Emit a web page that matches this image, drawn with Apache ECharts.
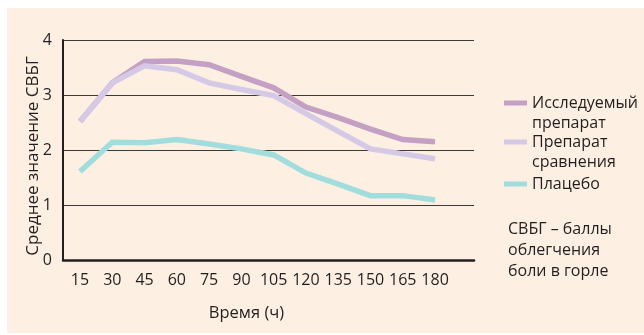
<!DOCTYPE html>
<html><head><meta charset="utf-8">
<script src="https://cdn.jsdelivr.net/npm/echarts@6/dist/echarts.min.js"></script>
<style>html,body{margin:0;padding:0;background:#fff}#c{width:644px;height:335px}</style>
</head><body><div id="c"></div>
<script>
const times = [15, 30, 45, 60, 75, 90, 105, 120, 135, 150, 165, 180];
const seriesNames = ['Исследуемый\nпрепарат', 'Препарат\nсравнения', 'Плацебо'];
const studyDrug = [2.52, 3.22, 3.61, 3.62, 3.55, 3.34, 3.13, 2.78, 2.59, 2.38, 2.19, 2.15];
const comparator = [2.52, 3.22, 3.53, 3.46, 3.22, 3.10, 2.99, 2.66, 2.34, 2.02, 1.93, 1.84];
const placebo = [1.61, 2.14, 2.13, 2.19, 2.11, 2.02, 1.91, 1.58, 1.38, 1.17, 1.17, 1.09];
const yTicks = [0, 1, 2, 3, 4];
const yName = 'Среднее значение СВБГ';
const xName = 'Время (ч)';
const note = 'СВБГ – баллы\nоблегчения\nболи в горле';

const colors = ['#c3a0c4', '#d5c9e6', '#a2dddd'];
const FONT = 'Open Sans';
const TXT = '#231f20';
const allSeries = [studyDrug, comparator, placebo];

const chart = echarts.init(document.getElementById('c'), null, {renderer: 'canvas'});
const legendTops = [73, 112, 174];
const option = {
  animation: false,
  textStyle: {fontFamily: FONT},
  graphic: [
    {type: 'rect', z: -10, left: 7, top: 8, shape: {width: 637, height: 325}, style: {fill: '#fdf0e3'}, silent: true},
    {type: 'text', left: 508, top: 219, style: {text: note, font: '16px "Open Sans"', fill: TXT, lineHeight: 21}}
  ],
  grid: {left: 63, right: 170, top: 40, bottom: 75},
  xAxis: {
    type: 'value', min: 7.1, max: 198.1,
    name: xName, nameLocation: 'middle', nameGap: 45,
    nameTextStyle: {fontSize: 16.5, color: TXT, fontFamily: FONT, padding: [0, 44, 0, 0]},
    axisLine: {show: true, lineStyle: {color: TXT, width: 2.5}},
    axisTick: {show: false},
    splitLine: {show: false},
    axisLabel: {customValues: times, color: TXT, fontSize: 16, fontFamily: FONT, margin: 12}
  },
  yAxis: {
    type: 'value', min: yTicks[0], max: yTicks[yTicks.length - 1], interval: 1,
    name: yName, nameLocation: 'middle', nameGap: 21, nameRotate: 90, nameMoveOverlap: false,
    nameTextStyle: {fontSize: 17, color: TXT, fontFamily: FONT, padding: [0, 12, 0, 0]},
    axisLine: {show: true, lineStyle: {color: TXT, width: 2}},
    axisTick: {show: false},
    splitLine: {show: true, lineStyle: {color: '#3d3a3a', width: 1}},
    axisLabel: {color: TXT, fontSize: 16, fontFamily: FONT, margin: 11}
  },
  legend: seriesNames.map((n, i) => ({
    data: [n],
    formatter: (name) => name.indexOf('\n') >= 0 ? '\n' + name : name,
    orient: 'vertical', left: 504, top: legendTops[i], padding: 0,
    icon: 'rect', itemWidth: 23, itemHeight: 5, itemGap: 8,
    textStyle: {color: TXT, fontSize: 16, fontFamily: FONT, lineHeight: 20},
    selectedMode: false
  })),
  series: allSeries.map((vals, i) => ({
    name: seriesNames[i], type: 'line', symbol: 'none',
    data: vals.map((v, j) => [times[j], v]),
    lineStyle: {color: colors[i], width: 5.5, join: 'miter'},
    itemStyle: {color: colors[i]},
    z: 3 + i
  }))
};
chart.setOption(option);
</script></body></html>
